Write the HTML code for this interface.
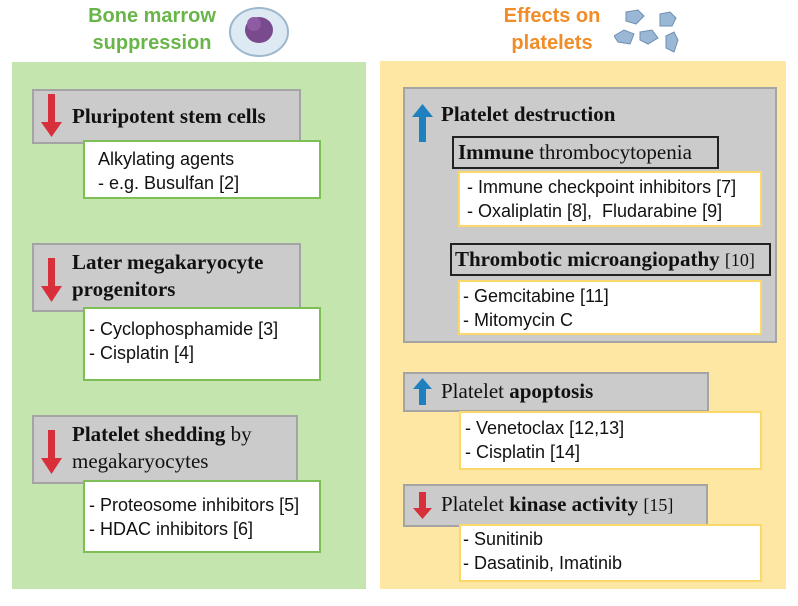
<!DOCTYPE html>
<html><head><meta charset="utf-8"><style>
body{margin:0;width:798px;height:606px;background:#fff;position:relative;font-family:"Liberation Sans",sans-serif;overflow:hidden}
.a{position:absolute;box-sizing:border-box}
.g{background:#cbcbcb;border:2px solid #a4a4a4}
.wg{background:#fff;border:2px solid #7dbf55}
.wy{background:#fff;border:2px solid #fbd86a}
.h{font-family:"Liberation Serif",serif;font-weight:bold;font-size:21px;color:#111;line-height:27px;white-space:nowrap}
.n{font-family:"Liberation Serif",serif;font-weight:normal}
.t{font-size:18px;color:#111;line-height:24px;white-space:nowrap}
.title{font-weight:bold;font-size:20px;line-height:27px;text-align:center}
</style></head><body>
<div class="a title" style="left:70px;top:3px;width:164px;color:#6ab54a">Bone marrow<br>suppression</div>
<svg class="a" style="left:226px;top:4px" width="66" height="54"><ellipse cx="33" cy="28" rx="29" ry="24" fill="#dde9f3" stroke="#9db7cc" stroke-width="2"/><ellipse cx="33" cy="26" rx="14" ry="13" fill="#7a4a8e"/><circle cx="28" cy="20" r="7" fill="#8f5ba3"/></svg>
<div class="a title" style="left:470px;top:3px;width:164px;color:#f28c28">Effects on<br>platelets</div>
<svg class="a" style="left:614px;top:6px" width="80" height="50" fill="#9ab8d6" stroke="#6f8fb0"><path d="M12 6 l12 -2 l6 6 l-8 8 l-10 -3z"/><path d="M46 8 l10 -2 l6 6 l-4 8 l-12 0z"/><path d="M0 30 l10 -6 l10 4 l-4 10 l-12 -2z"/><path d="M26 26 l12 -2 l6 8 l-10 6 l-8 -4z"/><path d="M52 30 l8 -4 l4 8 l-4 12 l-8 -4z"/></svg>

<div class="a" style="left:12px;top:62px;width:354px;height:527px;background:#c5e5ae"></div>
<div class="a" style="left:380px;top:61px;width:406px;height:528px;background:#fee6a3"></div>

<div class="a g" style="left:32px;top:89px;width:269px;height:55px"></div>
<div class="a h" style="left:72px;top:103px">Pluripotent stem cells</div>
<div class="a wg t" style="left:83px;top:140px;width:238px;height:59px;padding:5px 0 0 13px">Alkylating agents<br>- e.g. Busulfan [2]</div>

<div class="a g" style="left:32px;top:243px;width:269px;height:69px"></div>
<div class="a h" style="left:72px;top:249px">Later megakaryocyte<br>progenitors</div>
<div class="a wg t" style="left:83px;top:307px;width:238px;height:74px;padding:8px 0 0 4px">- Cyclophosphamide [3]<br>- Cisplatin [4]</div>

<div class="a g" style="left:32px;top:415px;width:266px;height:69px"></div>
<div class="a h" style="left:72px;top:421px">Platelet shedding <span class="n">by<br>megakaryocytes</span></div>
<div class="a wg t" style="left:83px;top:480px;width:238px;height:73px;padding:11px 0 0 4px">- Proteosome inhibitors [5]<br>- HDAC inhibitors [6]</div>

<div class="a g" style="left:403px;top:87px;width:374px;height:256px"></div>
<div class="a h" style="left:441px;top:101px">Platelet destruction</div>
<div class="a h" style="left:452px;top:136px;width:267px;height:33px;border:2px solid #222;padding:1px 0 0 4px;box-sizing:border-box">Immune <span class="n">thrombocytopenia</span></div>
<div class="a wy t" style="left:458px;top:171px;width:304px;height:56px;padding:2px 0 0 7px">- Immune checkpoint inhibitors [7]<br>- Oxaliplatin [8],&nbsp; Fludarabine [9]</div>
<div class="a h" style="left:450px;top:243px;width:321px;height:33px;border:2px solid #222;padding:1px 0 0 3px;box-sizing:border-box">Thrombotic microangiopathy <span class="n" style="font-size:18px">[10]</span></div>
<div class="a wy t" style="left:458px;top:280px;width:304px;height:55px;padding:2px 0 0 3px">- Gemcitabine [11]<br>- Mitomycin C</div>

<div class="a g" style="left:403px;top:372px;width:306px;height:40px"></div>
<div class="a h" style="left:441px;top:378px"><span class="n">Platelet</span> apoptosis</div>
<div class="a wy t" style="left:459px;top:411px;width:303px;height:59px;padding:3px 0 0 4px">- Venetoclax [12,13]<br>- Cisplatin [14]</div>

<div class="a g" style="left:403px;top:484px;width:305px;height:43px"></div>
<div class="a h" style="left:441px;top:491px"><span class="n">Platelet</span> kinase activity <span class="n" style="font-size:18px">[15]</span></div>
<div class="a wy t" style="left:459px;top:524px;width:303px;height:58px;padding:1px 0 0 2px">- Sunitinib<br>- Dasatinib, Imatinib</div>

<svg class="a" style="left:0;top:0" width="798" height="606">
<g fill="#d7303a">
<rect x="48" y="94" width="7" height="30"/><polygon points="41,122 62,122 51.5,137"/>
<rect x="48" y="258" width="7" height="30"/><polygon points="41,286 62,286 51.5,302"/>
<rect x="48" y="430" width="7" height="30"/><polygon points="41,458 62,458 51.5,474"/>
<rect x="419" y="492" width="7" height="18"/><polygon points="413,508 432,508 422.5,519"/>
</g>
<g fill="#1f80c0">
<rect x="419" y="114" width="7" height="28"/><polygon points="412,117 433,117 422.5,104"/>
<rect x="419" y="387" width="7" height="18"/><polygon points="413,389 432,389 422.5,378"/>
</g>
</svg>
</body></html>
